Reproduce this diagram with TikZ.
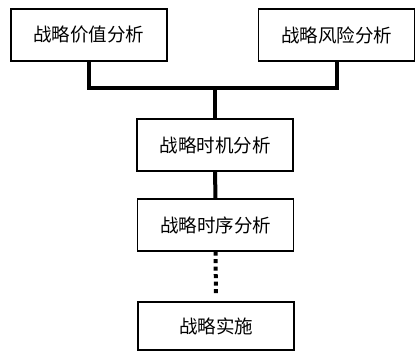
\documentclass[tikz,border=0pt]{standalone}
\usepackage{fontspec}
\newfontfamily\cjk{Noto Sans CJK SC}
\usetikzlibrary{calc}
\tikzset{box/.style={draw, line width=1.2pt, minimum width=156pt, minimum height=52pt, inner sep=0pt, font=\cjk\fontsize{18.5}{18.5}\selectfont},
  link/.style={line width=4pt}}
\begin{document}
\begin{tikzpicture}[x=1pt,y=-1pt]
    \useasboundingbox (0,0) rectangle (418,352);
    \node[box] (jz) at (89,35) {战略价值分析};
    \node[box] (fx) at (336.5,35) {战略风险分析};
    \node[box] (sj) at (215,145) {战略时机分析};
    \node[box] (sx) at (215.5,225) {战略时序分析};
    \node[box, minimum height=48pt] (ss) at (216,326) {战略实施};
    \coordinate (hz) at (215,88);

    \draw[link] (jz.south) |- (hz) -| (fx.south);
    \draw[link] (hz) to (sj);
    \draw[link] (sj) to (sx);
    \draw[link, dash pattern=on 4pt off 3.5pt, shorten >=8pt] (sx) to (ss);
  \end{tikzpicture}
\end{document}
